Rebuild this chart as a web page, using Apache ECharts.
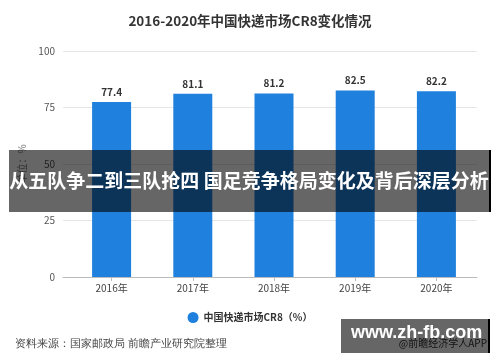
<!DOCTYPE html>
<html><head><meta charset="utf-8">
<script src="https://cdn.jsdelivr.net/npm/echarts@6/dist/echarts.min.js"></script>
<style>html,body{margin:0;padding:0;background:#fff}#c{width:500px;height:362px}</style>
</head><body><div id="c"></div>
<script>
var categories = ['2016年','2017年','2018年','2019年','2020年'];
var cr8Values = [77.4, 81.1, 81.2, 82.5, 82.2];
var yTicks = [0, 25, 50, 75, 100];
var seriesName = '中国快递市场CR8（%）';
var titleText = '2016-2020年中国快递市场CR8变化情况';
var sourceText = '资料来源：国家邮政局 前瞻产业研究院整理';
var bannerText = '从五队争二到三队抢四 国足竞争格局变化及背后深层分析';
var markText = 'www.zh-fb.com';
var appText = '@前瞻经济学人APP';

var FONT = '"Noto Sans CJK SC", "Noto Sans", sans-serif';
var chart = echarts.init(document.getElementById('c'), null, {renderer:'canvas'});
var yAx = {
  type:'value', min:yTicks[0], max:yTicks[yTicks.length-1], interval:yTicks[1]-yTicks[0],
  axisLine:{show:false}, axisTick:{show:false}
};
chart.setOption({
  animation:false,
  textStyle:{fontFamily:FONT},
  title:{text:titleText, left:'center', top:9,
    textStyle:{fontSize:13.5, fontWeight:'bold', color:'#333', fontFamily:FONT}},
  legend:{bottom:34, left:'center', icon:'circle', itemWidth:11, itemHeight:11,
    textStyle:{fontSize:10, fontWeight:'bold', color:'#333', fontFamily:FONT},
    data:[seriesName]},
  grid:[
    {left:63, right:23, top:51, bottom:85},
    {left:71, right:23, top:51, bottom:85}
  ],
  xAxis:[
    {type:'category', gridIndex:0, data:categories, axisLabel:{show:false}, axisTick:{show:false},
      axisLine:{lineStyle:{color:'#bbb'}}},
    {type:'category', gridIndex:1, data:categories, axisLine:{show:false},
      axisTick:{show:true, alignWithLabel:true, length:4, lineStyle:{color:'#bbb'}},
      axisLabel:{fontSize:10, color:'#444', margin:6, fontFamily:FONT}}
  ],
  yAxis:[
    Object.assign({gridIndex:0, name:'单位：%', nameLocation:'middle', nameGap:28,
      nameTextStyle:{fontSize:10, color:'#777', fontFamily:FONT},
      axisLabel:{fontSize:10, color:'#555', margin:8, fontFamily:FONT},
      splitLine:{lineStyle:{color:'#e6e6e6'}}}, yAx),
    Object.assign({gridIndex:1, axisLabel:{show:false}, splitLine:{show:false}}, yAx)
  ],
  series:[{
    name:seriesName, type:'bar', xAxisIndex:1, yAxisIndex:1, data:cr8Values,
    barWidth:39, itemStyle:{color:'#1f80dd'},
    label:{show:true, position:'top', distance:5, fontSize:10, fontWeight:'bold', color:'#333', fontFamily:FONT}
  }],
  graphic:[
    {type:'text', left:15, top:338, style:{text:sourceText, fontSize:11, fill:'#444', font:'11px ' + FONT}},
    {type:'text', right:13, top:338, z:10, style:{text:appText, fill:'#333', font:'10px ' + FONT}},
    {type:'rect', left:341, top:319, z:20, shape:{width:147, height:34}, style:{fill:'rgba(0,0,0,0.6)'}},
    {type:'rect', left:488, top:319, z:20, shape:{width:2, height:34}, style:{fill:'#000'}},
    {type:'text', left:351, top:324, z:21, style:{text:markText, fill:'#fff', font:'bold 18px "Liberation Sans", Arial, sans-serif'}},
    {type:'rect', left:9, top:150, z:20, shape:{width:480, height:62}, style:{fill:'rgba(0,0,0,0.6)'}},
    {type:'rect', left:489, top:150, z:20, shape:{width:2, height:62}, style:{fill:'#000'}},
    {type:'text', x:249, y:181, z:21, style:{text:bannerText, fill:'#fff', align:'center', verticalAlign:'middle', font:'bold 19px ' + FONT}}
  ]
});
</script></body></html>
